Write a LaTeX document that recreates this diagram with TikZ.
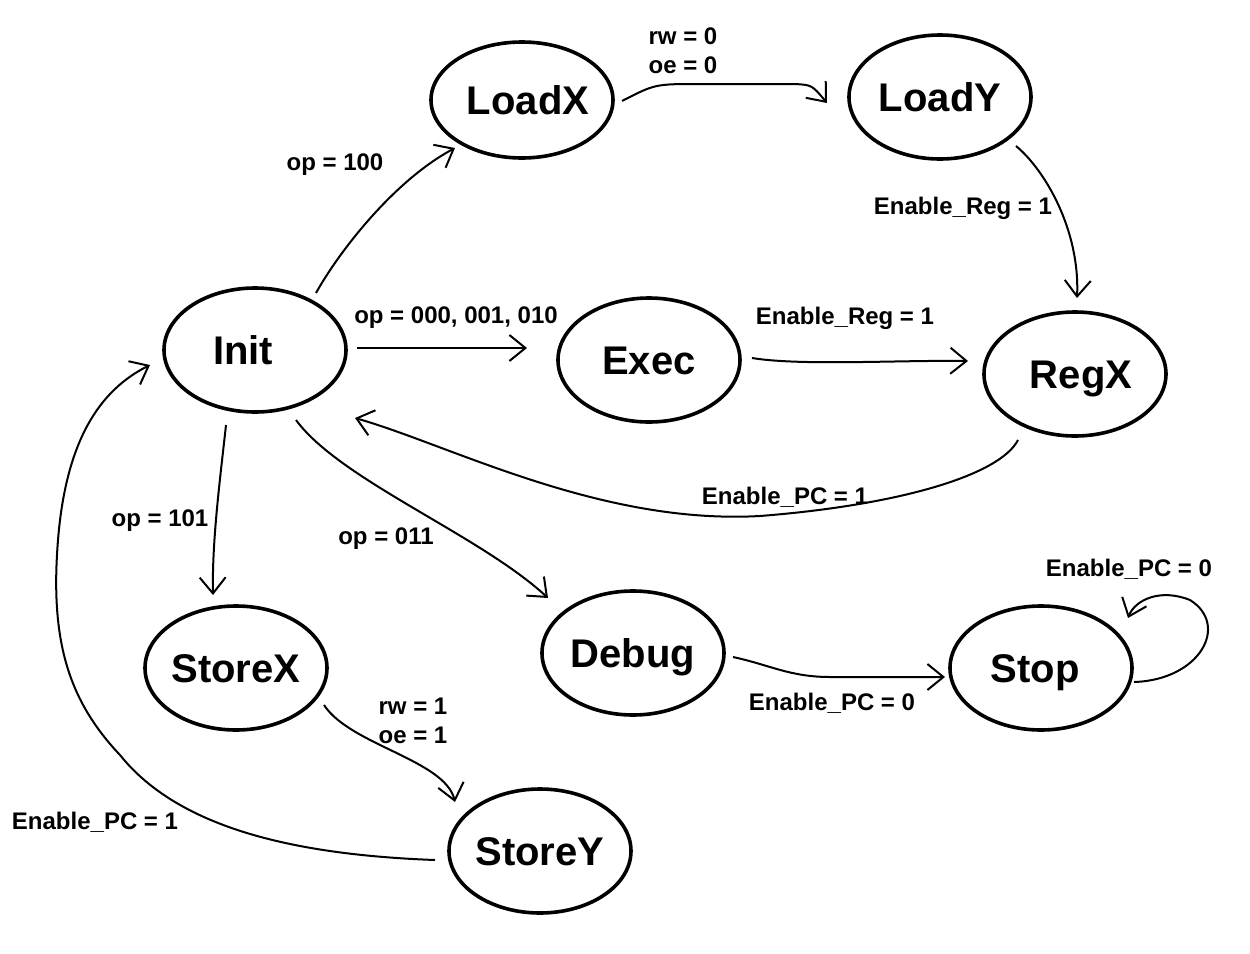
\documentclass[tikz,border=0pt]{standalone}
\usepackage{fontspec}
\setmainfont{Liberation Sans}
\usetikzlibrary{arrows.meta,calc,shapes.geometric}
\begin{document}
\begin{tikzpicture}[x=0.5pt,y=-0.5pt,
  state/.style={draw,ellipse,line width=1.8pt,inner sep=0pt,minimum width=91pt,minimum height=62pt},
  stext/.style={inner sep=0pt,text height=14.4pt,text depth=0pt,font=\bfseries\fontsize{20}{22}\selectfont},
  conn/.style={line width=1pt,-{Straight Barb[length=8pt,width=13pt,line width=1pt]}},
  lbl/.style={font=\bfseries\fontsize{12}{14.5}\selectfont,inner sep=0pt,align=center}]
\useasboundingbox (0,0) rectangle (1250,954);
\node[state,minimum height=58pt,label={[stext,xshift=3pt]center:LoadX}] (loadx) at (522,100) {};
\node[state,label={[stext]center:LoadY}] (loady) at (940,97) {};
\node[state,label={[stext,xshift=-6pt]center:Init}] (init) at (255,350) {};
\node[state,label={[stext]center:Exec}] (exec) at (649,360) {};
\node[state,label={[stext,xshift=3pt]center:RegX}] (regx) at (1075,374) {};
\node[state,label={[stext]center:StoreX}] (storex) at (236,668) {};
\node[state,label={[stext]center:Debug}] (debug) at (633,653) {};
\node[state,label={[stext,xshift=-3pt]center:Stop}] (stop) at (1041,668) {};
\node[state,label={[stext]center:StoreY}] (storey) at (540,851) {};
% labels
\node[lbl] (l1) at (335,165) {op = 100};
\node[lbl] (l2) at (683,51) {rw = 0\\oe = 0};
\node[lbl] (l3) at (963,208) {Enable\_Reg = 1};
\node[lbl] (l4) at (456,318) {op = 000, 001, 010};
\node[lbl] (l5) at (845,318) {Enable\_Reg = 1};
\node[lbl] (l6) at (785,497) {Enable\_PC = 1};
\node[lbl] (l7) at (160,521) {op = 101};
\node[lbl] (l8) at (386,539) {op = 011};
\node[lbl] (l9) at (832,703) {Enable\_PC = 0};
\node[lbl] (l10) at (1129,569) {Enable\_PC = 0};
\node[lbl] (l11) at (413,721) {rw = 1\\oe = 1};
\node[lbl] (l12) at (95,822) {Enable\_PC = 1};
% connectors
\draw[conn] ($(init)+(61,-57)$) .. controls (340,250) and (395,180) .. ($(loadx)+(-67,48)$);
\draw[conn] ($(loadx)+(100,1)$) .. controls (655,84) .. (700,84) -- (795,84) .. controls (812,85) .. ($(loady)+(-113,6)$);
\draw[conn] ($(loady)+(76,49)$) .. controls (1045,170) and (1080,230) .. ($(regx)+(2,-76)$);
\draw[conn] ($(init)+(102,-2)$) -- ($(exec)+(-122,-12)$);
\draw[conn] ($(exec)+(103,-2)$) .. controls (800,366) and (900,360) .. ($(regx)+(-107,-13)$);
\draw[conn] ($(regx)+(-57,66)$) .. controls (1000,475) and (900,505) .. (760,516) .. controls (600,525) and (450,445) .. ($(init)+(100,68)$);
\draw[conn] ($(init)+(-29,75)$) .. controls (220,480) and (212,540) .. ($(storex)+(-23,-73)$);
\draw[conn] ($(init)+(41,70)$) .. controls (340,480) and (480,535) .. ($(debug)+(-85,-55)$);
\draw[conn] ($(debug)+(100,4)$) .. controls (770,665) and (790,677) .. (830,677) -- ($(stop)+(-96,9)$);
\draw[conn] ($(stop)+(93,14)$) .. controls (1200,680) and (1230,625) .. (1190,600) .. controls (1160,588) and (1135,600) .. ($(stop)+(87,-50)$);
\draw[conn] ($(storex)+(88,37)$) .. controls (350,745) and (445,760) .. ($(storey)+(-85,-49)$);
\draw[conn] ($(storey)+(-105,9)$) .. controls (300,855) and (180,830) .. (120,755) .. controls (68,700) and (50,640) .. (58,540) .. controls (66,440) and (100,390) .. ($(init)+(-105,15)$);
\end{tikzpicture}
\end{document}
